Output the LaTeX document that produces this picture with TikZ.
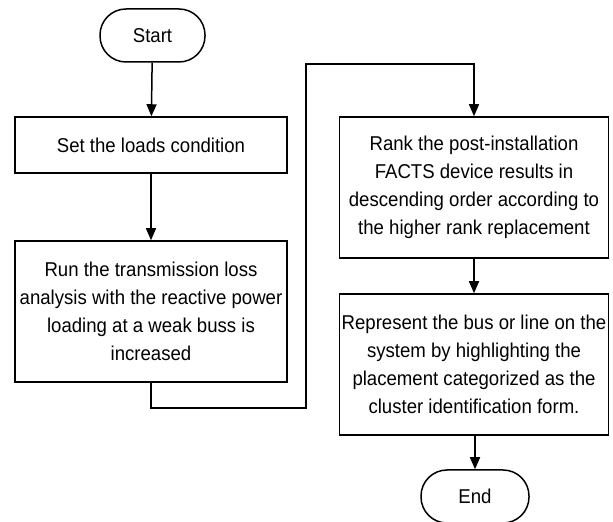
\documentclass[tikz,border=0pt]{standalone}
\usepackage{fontspec}
\setmainfont[FakeStretch=0.93]{Liberation Sans}
\usetikzlibrary{arrows.meta,positioning}

\begin{document}
\begin{tikzpicture}[x=0.5pt, y=0.5pt,
    every node/.style={font=\fontsize{10}{14}\selectfont, align=center, line width=0.75pt},
    terminal/.style={draw, rectangle, rounded corners=13pt, minimum width=52.5pt, minimum height=26.5pt, inner sep=0pt},
    process/.style={draw, rectangle, minimum width=136pt, inner sep=1pt},
    flow/.style={-{Triangle[length=6pt,width=5pt]}, line width=0.75pt}]
    \useasboundingbox (0,0) rectangle (613,522);

    % Left column
    \node[terminal] (start) at (152.5,486.5) {Start};
    \node[process, minimum height=28pt] (loads) at (151,377) {Set the loads condition};
    \node[process, minimum height=70.5pt] (run) at (151,210.5)
        {Run the transmission loss\\ analysis with the reactive power\\ loading at a weak buss is\\ increased};

    % Right column
    \node[process, minimum width=134.5pt, minimum height=70.5pt] (rank) at (474,334.5)
        {Rank the post-installation\\ FACTS device results in\\ descending order according to\\ the higher rank replacement};
    \node[process, minimum width=134.5pt, minimum height=70.5pt] (represent) at (474,157.5)
        {Represent the bus or line on the\\ system by highlighting the\\ placement categorized as the\\ cluster identification form.};
    \node[terminal, minimum width=54pt] (end) at (475,25.5) {End};

    % Connectors
    \coordinate (c1) at (151,114);
    \coordinate (c2) at (306,114);
    \coordinate (c3) at (306,458);
    \coordinate (c4) at (474,458);
    \draw[flow] (start) -- (loads);
    \draw[flow] (loads) -- (run);
    \draw[flow] (run.south) -- (c1) -- (c2) -- (c3) -- (c4) -- (rank.north);
    \draw[flow] (rank) -- (represent);
    \draw[flow] (represent.south -| end) -- (end);
\end{tikzpicture}
\end{document}
